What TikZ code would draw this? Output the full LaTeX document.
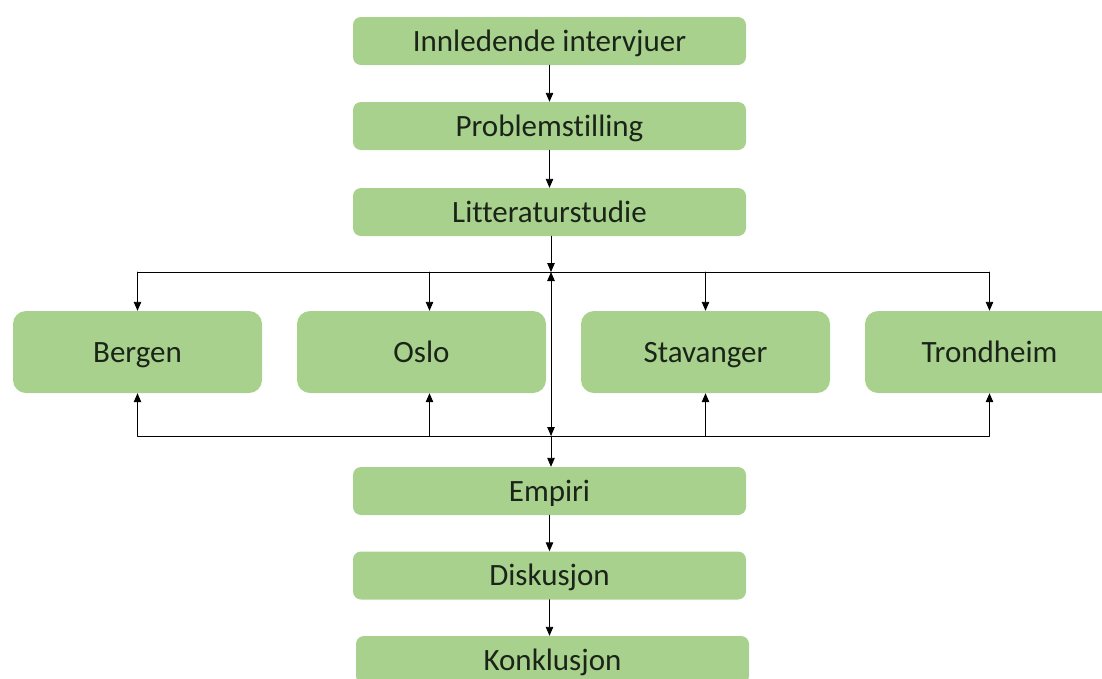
\documentclass[tikz,border=0pt]{standalone}
\usepackage{fontspec}
\setmainfont{Carlito}[Ligatures=NoCommon]
\usetikzlibrary{arrows.meta}
\definecolor{boxgreen}{HTML}{A9D18E}
\definecolor{boxtext}{HTML}{1A2418}
\begin{document}
\begin{tikzpicture}[x=1pt,y=-1pt,line cap=round,line join=round,
    stepbox/.style={fill=boxgreen,rounded corners=8pt,minimum width=393pt,minimum height=48pt,
      inner sep=0pt,text=boxtext,font=\fontsize{31}{37}\selectfont,text height=20pt,text depth=0pt},
    citybox/.style={fill=boxgreen,rounded corners=13pt,minimum width=249pt,minimum height=82pt,
      inner sep=0pt,text=boxtext,font=\fontsize{31}{37}\selectfont,text height=20pt,text depth=0pt},
    flow/.style={-{Triangle[length=9pt,width=7.5pt]},line width=0.9pt}]
    \useasboundingbox (0,0) rectangle (1102,678);
    \clip (0,0) rectangle (1102,678);

    % steps before the case studies
    \node[stepbox] (intro) at (549.5,41) {Innledende intervjuer};
    \node[stepbox] (problem) at (549.5,126) {Problemstilling};
    \node[stepbox] (litt) at (549.5,212) {Litteraturstudie};

    % case cities
    \node[citybox] (bergen) at (137.5,352) {Bergen};
    \node[citybox] (oslo) at (421.5,352) {Oslo};
    \node[citybox] (stav) at (705.5,352) {Stavanger};
    \node[citybox] (trond) at (989.5,352) {Trondheim};

    % steps after the case studies
    \node[stepbox] (empiri) at (549.5,491) {Empiri};
    \node[stepbox] (disk) at (549.5,575.5) {Diskusjon};
    \node[stepbox] (konkl) at (552.5,660) {Konklusjon};

    % split and gather lines
    \coordinate (splitT) at (551,272);
    \coordinate (splitB) at (551,436);
    \coordinate (osloT) at ([xshift=8pt]oslo.north);
    \coordinate (osloB) at ([xshift=8pt]oslo.south);

    \draw[flow] (intro) -- (problem);
    \draw[flow] (problem) -- (litt);
    \draw[flow] (litt.south -| splitT) -- (splitT);
    \draw[line width=0.9pt] (bergen.north |- splitT) -- (trond.north |- splitT);
    \draw[line width=0.9pt] (bergen.south |- splitB) -- (trond.south |- splitB);
    \draw[flow,{Triangle[length=9pt,width=7.5pt]}-{Triangle[length=9pt,width=7.5pt]}] (splitT) -- (splitB);
    \foreach \city in {bergen,stav,trond}{
      \draw[flow] (\city.north |- splitT) -- (\city.north);
      \draw[flow] (\city.south |- splitB) -- (\city.south);
    }
    \draw[flow] (osloT |- splitT) -- (osloT);
    \draw[flow] (osloB |- splitB) -- (osloB);
    \draw[flow] (splitB) -- (empiri.north -| splitB);
    \draw[flow] (empiri) -- (disk);
    \draw[flow] (disk) -- (konkl.north -| disk);
  \end{tikzpicture}
\end{document}
